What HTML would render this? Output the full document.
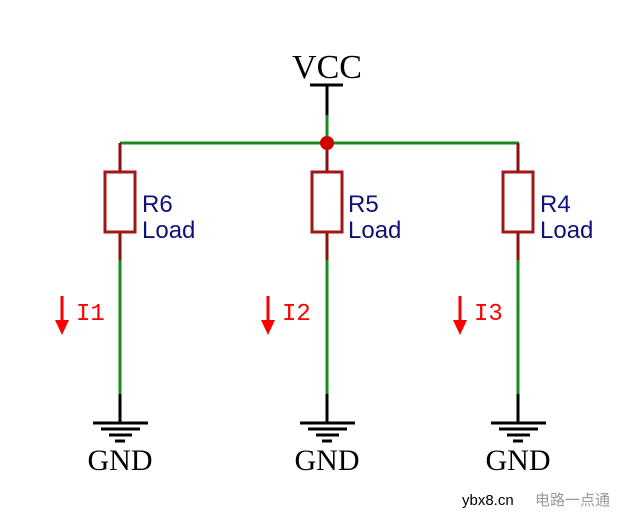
<!DOCTYPE html>
<html><head><style>html,body{margin:0;padding:0;background:#fff;}svg{display:block}</style></head>
<body>
<svg width="640" height="531" viewBox="0 0 640 531" xmlns="http://www.w3.org/2000/svg">
<text x="327" y="78" font-family="Liberation Serif, serif" font-size="34" text-anchor="middle" fill="#000">VCC</text>
<line x1="310" y1="85" x2="343" y2="85" stroke="#000" stroke-width="3"/>
<line x1="327" y1="85" x2="327" y2="115" stroke="#000" stroke-width="3"/>
<line x1="327" y1="115" x2="327" y2="143" stroke="#1a8a1a" stroke-width="3"/>
<line x1="120" y1="143" x2="519" y2="143" stroke="#1a8a1a" stroke-width="3"/>
<g font-family="Liberation Sans, sans-serif" font-size="24" fill="#10107a">
<text x="142" y="212">R6</text><text x="142" y="238">Load</text>
<text x="348" y="212">R5</text><text x="348" y="238">Load</text>
<text x="540" y="212">R4</text><text x="540" y="238">Load</text>
</g>
<g font-family="Liberation Mono, monospace" font-size="24" fill="#f00">
<text x="76" y="320">I1</text><text x="282" y="320">I2</text><text x="474" y="320">I3</text>
</g>
<g font-family="Liberation Serif, serif" font-size="30" fill="#000" text-anchor="middle">
<text x="120" y="470">GND</text><text x="327" y="470">GND</text><text x="518" y="470">GND</text>
</g>
<g stroke-width="3" fill="none">
<path d="M120 143V172M120 232V260" stroke="#8b1010"/>
<rect x="105" y="172" width="30" height="60" stroke="#a01818" fill="#fff"/>
<path d="M120 260V394" stroke="#1a8a1a"/>
<path d="M120 394V423M93 423H148M101 429H140M109 435H132M115 441H125" stroke="#000"/>
<path d="M327 143V172M327 232V260" stroke="#8b1010"/>
<rect x="312" y="172" width="30" height="60" stroke="#a01818" fill="#fff"/>
<path d="M327 260V394" stroke="#1a8a1a"/>
<path d="M327 394V423M300 423H355M308 429H347M316 435H339M322 441H332" stroke="#000"/>
<path d="M518 143V172M518 232V260" stroke="#8b1010"/>
<rect x="503" y="172" width="30" height="60" stroke="#a01818" fill="#fff"/>
<path d="M518 260V394" stroke="#1a8a1a"/>
<path d="M518 394V423M491 423H546M499 429H538M507 435H530M513 441H523" stroke="#000"/>
<path d="M62 296V322M268 296V322M460 296V322" stroke="#f00"/>
</g>
<g fill="#f00">
<polygon points="55,320 69,320 62,335"/>
<polygon points="261,320 275,320 268,335"/>
<polygon points="453,320 467,320 460,335"/>
</g>
<circle cx="327" cy="143" r="7" fill="#d00000"/>
<text x="462" y="505" font-family="Liberation Sans, sans-serif" font-size="15" fill="#000">ybx8.cn</text>
<text x="535" y="505" font-family="Liberation Sans, 'Noto Sans CJK SC', sans-serif" font-size="15" fill="#999">电路一点通</text>
</svg>
</body></html>
